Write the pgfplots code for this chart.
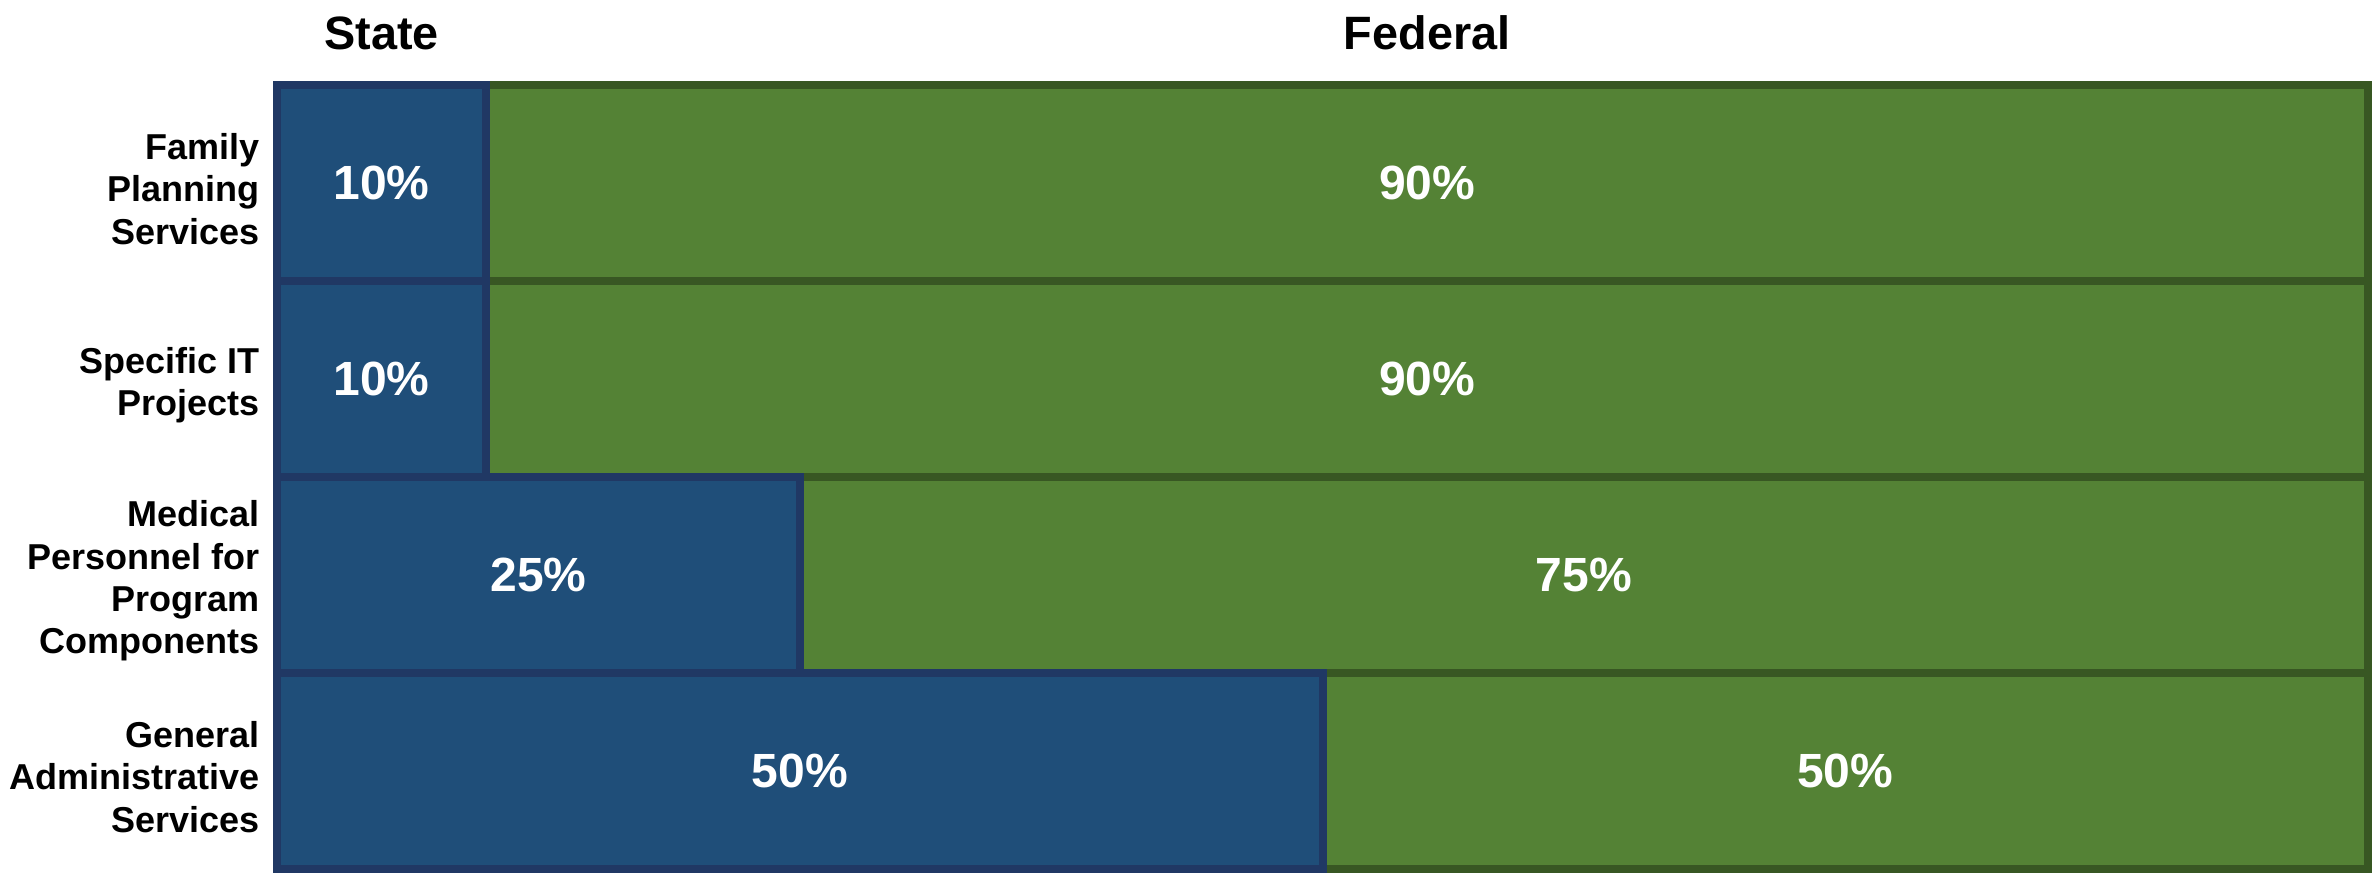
\documentclass[border=0pt]{standalone}
\usepackage{fontspec}
\setmainfont{Liberation Sans}
\usepackage{pgfplots}
\pgfplotsset{compat=1.18}
\definecolor{stateblue}{HTML}{1F4E79}
\definecolor{stateedge}{HTML}{203864}
\definecolor{fedgreen}{HTML}{548235}
\definecolor{fededge}{HTML}{385723}

\begin{document}
\begin{tikzpicture}
\begin{axis}[
  at={(0,0)}, anchor=south west,
  scale only axis, width=522.75pt, height=196pt,
  xbar stacked, bar width=1,
  xmin=0, xmax=100, ymin=-0.5, ymax=3.5,
  axis line style={draw=none}, tick style={draw=none},
  ytick={0,1,2,3},
  yticklabels={{General\\Administrative\\Services},{Medical\\Personnel for\\Program\\Components},{Specific IT\\Projects},{Family\\Planning\\Services}},
  yticklabel style={align=right, inner sep=0pt, xshift=-4.25pt, yshift=-1.5pt, font=\bfseries\fontsize{9}{10.6}\selectfont},
  xtick={5,55}, xticklabels={State,Federal}, xticklabel pos=upper,
  xticklabel style={font=\bfseries\fontsize{11.7}{14}\selectfont, inner sep=0pt, anchor=base, yshift=8.75pt},
  /pgf/number format/assume math mode=true,
  visualization depends on=rawx \as \rawx,
  nodes near coords={\pgfmathprintnumber{\rawx}\%},
  every node near coord/.append style={anchor=center, text=white, font=\bfseries\fontsize{12}{14}\selectfont},
  clip=false,
]
% state share
\addplot[fill=stateblue, draw=stateedge, line width=2pt] coordinates {(50,0) (25,1) (10,2) (10,3)};
% federal share
\addplot[fill=fedgreen, draw=fededge, line width=2pt] coordinates {(50,0) (75,1) (90,2) (90,3)};
\end{axis}
\path (-69.25pt,-0.5pt) rectangle (525pt,217.25pt);
\end{tikzpicture}
\end{document}
